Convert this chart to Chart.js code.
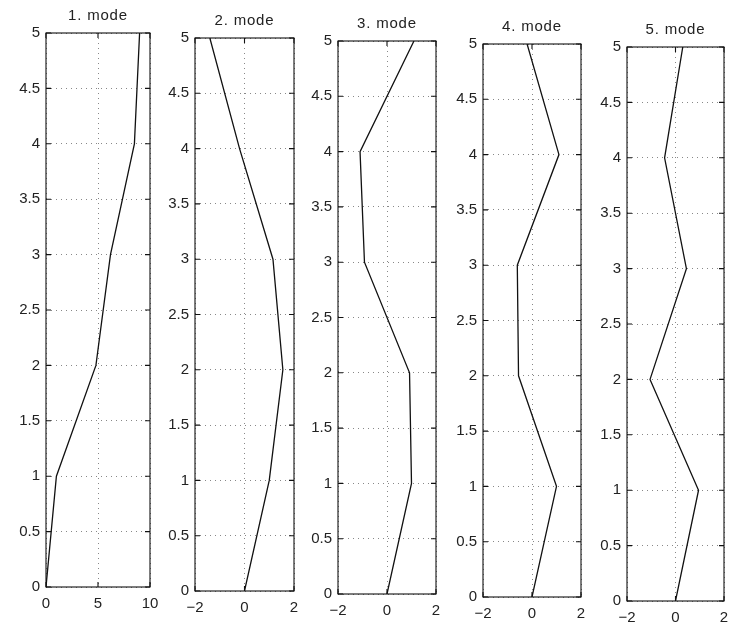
<!DOCTYPE html>
<html><head><meta charset="utf-8">
<script src="https://cdn.jsdelivr.net/npm/chart.js@4.4.1/dist/chart.umd.min.js"></script>
<style>
html,body{margin:0;padding:0;background:#fff;width:730px;height:630px;overflow:hidden;position:relative}
canvas{position:absolute}
</style></head><body>
<script>
// ---- data ----
const heights = [0, 1, 2, 3, 4, 5];
const titles = ["1. mode", "2. mode", "3. mode", "4. mode", "5. mode"];
const mode1 = [0, 1.0, 4.8, 6.2, 8.5, 9.0];
const mode2 = [0, 1.0, 1.55, 1.15, -0.2, -1.4];
const mode3 = [0, 1.0, 0.92, -0.92, -1.1, 1.1];
const mode4 = [0, 1.0, -0.55, -0.6, 1.1, -0.2];
const mode5 = [0, 0.95, -1.05, 0.45, -0.45, 0.3];
const xTicksMode1 = [0, 5, 10];
const xTicksOther = [-2, 0, 2];
const yTicks = [0, 0.5, 1, 1.5, 2, 2.5, 3, 3.5, 4, 4.5, 5];

// ---- layout (plot boxes: left, top, right, bottom, right margin) ----
const boxes = [
  [46, 33, 150, 587, 12],
  [195, 38, 294, 591, 12],
  [338, 41, 436, 594, 12],
  [483, 44, 581, 597, 12],
  [627, 47, 724, 601, 6]
];
const PADL = 40, PADT = 32, PADB = 30;

const frame = {
  id: 'frame',
  afterDraw(c, args, o) {
    const {ctx, chartArea: a, scales: {x, y}} = c;
    ctx.save();
    ctx.strokeStyle = '#111';
    ctx.lineWidth = 1.1;
    ctx.strokeRect(a.left, a.top, a.right - a.left, a.bottom - a.top);
    ctx.beginPath();
    for (const t of y.ticks) {
      const py = y.getPixelForValue(t.value);
      ctx.moveTo(a.left, py); ctx.lineTo(a.left + 5, py);
      ctx.moveTo(a.right, py); ctx.lineTo(a.right - 5, py);
    }
    for (const t of x.ticks) {
      const px = x.getPixelForValue(t.value);
      ctx.moveTo(px, a.top); ctx.lineTo(px, a.top + 5);
      ctx.moveTo(px, a.bottom); ctx.lineTo(px, a.bottom - 5);
    }
    ctx.stroke();
    ctx.fillStyle = '#222';
    ctx.font = '15px "Liberation Sans", Arial, sans-serif';
    try { ctx.letterSpacing = '0.8px'; } catch (e) {}
    ctx.textAlign = 'center';
    ctx.textBaseline = 'bottom';
    ctx.fillText(o.text, (a.left + a.right) / 2, a.top - 10);
    ctx.restore();
  }
};

const modes = [mode1, mode2, mode3, mode4, mode5];
const tickFont = {family: '"Liberation Sans", Arial, sans-serif', size: 15};

modes.forEach((vals, i) => {
  const [L, T, R, B, PADR] = boxes[i];
  const cv = document.createElement('canvas');
  const w = (R - L) + PADL + PADR, h = (B - T) + PADT + PADB;
  cv.width = w; cv.height = h;
  cv.style.width = w + 'px'; cv.style.height = h + 'px';
  cv.style.left = (L - PADL) + 'px'; cv.style.top = (T - PADT) + 'px';
  document.body.appendChild(cv);
  const xt = i === 0 ? xTicksMode1 : xTicksOther;
  new Chart(cv, {
    type: 'scatter',
    data: {
      datasets: [{
        data: vals.map((v, k) => ({x: v, y: heights[k]})),
        showLine: true,
        borderColor: '#111',
        borderWidth: 1.3,
        pointRadius: 0,
        tension: 0
      }]
    },
    options: {
      responsive: false,
      animation: false,
      devicePixelRatio: 1,
      layout: {padding: {left: 0, top: PADT, right: PADR, bottom: 0}},
      plugins: {legend: {display: false}, tooltip: {enabled: false}, frame: {text: titles[i]}},
      scales: {
        x: {
          type: 'linear',
          min: xt[0], max: xt[xt.length - 1],
          afterBuildTicks: s => { s.ticks = xt.map(v => ({value: v})); },
          afterFit: s => { s.height = PADB; s.paddingLeft = 0; s.paddingRight = 0; },
          grid: {color: '#888', lineWidth: 1, drawTicks: false},
          border: {display: false, dash: [1, 4]},
          ticks: {color: '#222', font: tickFont, padding: 8, maxRotation: 0,
                  callback: v => String(v).replace('-', '\u2212')}
        },
        y: {
          type: 'linear',
          min: 0, max: 5,
          afterBuildTicks: s => { s.ticks = yTicks.map(v => ({value: v})); },
          afterFit: s => { s.width = PADL; s.paddingTop = 0; s.paddingBottom = 0; },
          grid: {color: '#888', lineWidth: 1, drawTicks: false},
          border: {display: false, dash: [1, 4]},
          ticks: {color: '#222', font: tickFont, padding: 6, callback: v => String(v)}
        }
      }
    },
    plugins: [frame]
  });
});
</script>
</body></html>
